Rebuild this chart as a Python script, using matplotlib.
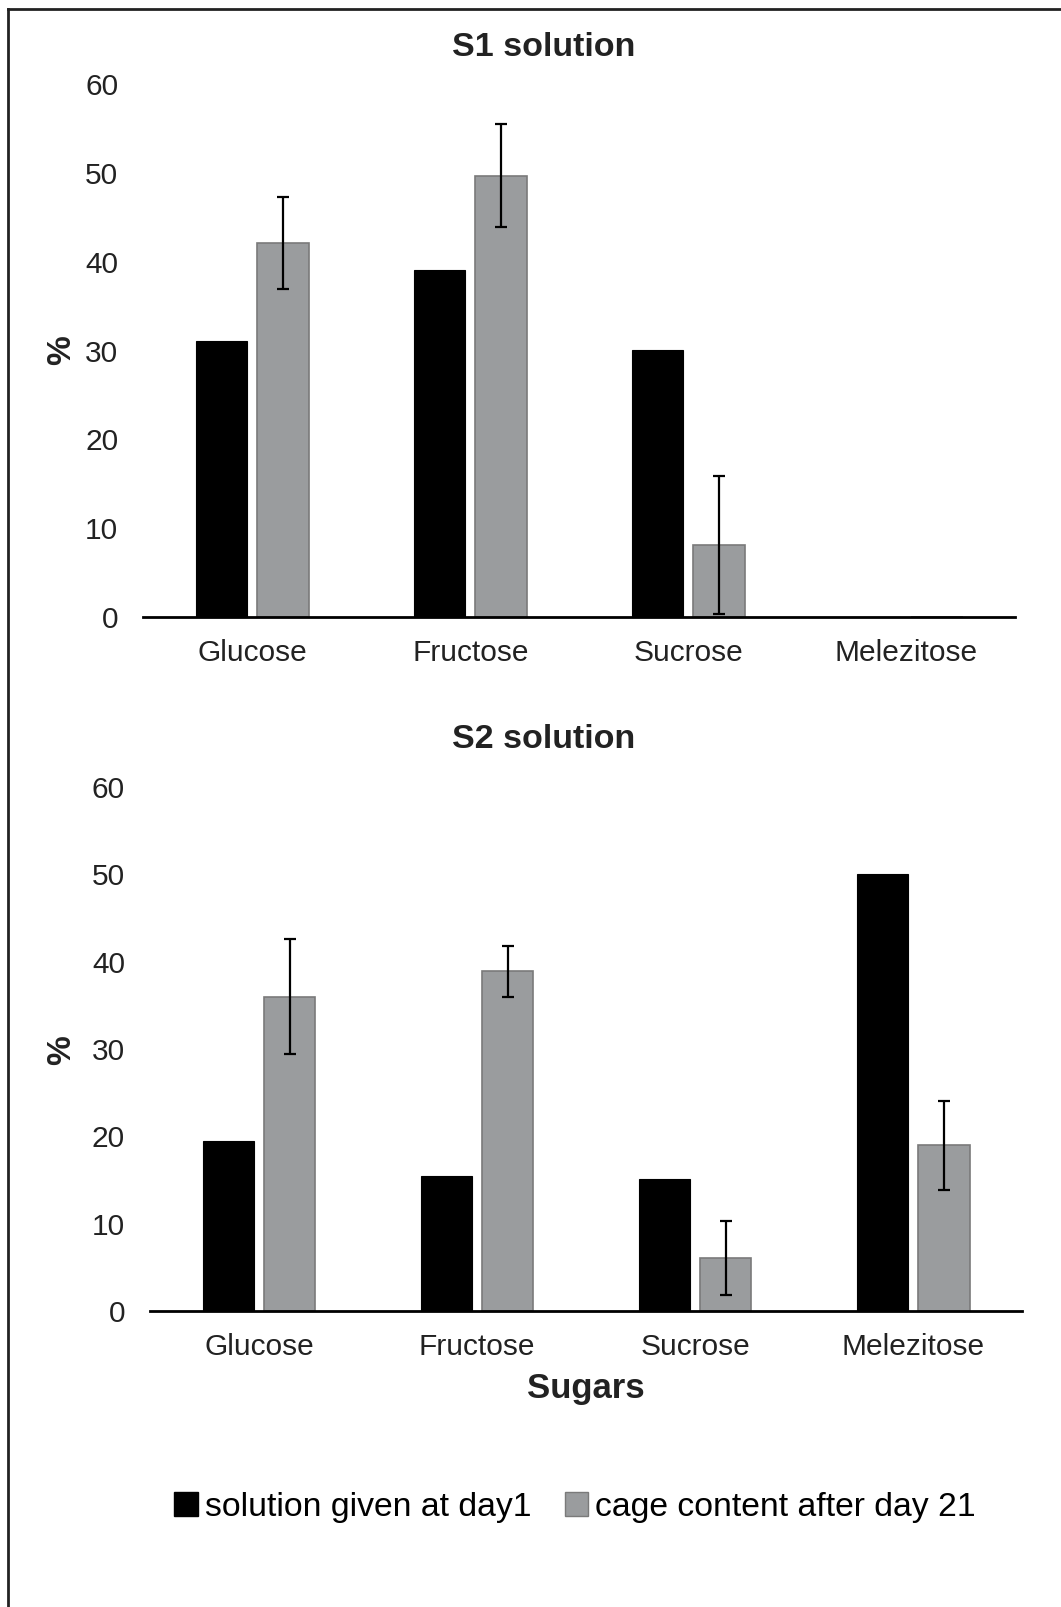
import numpy as np
import matplotlib.pyplot as plt
from matplotlib.patches import Patch
from matplotlib.lines import Line2D

plt.rcParams['font.family'] = ['Liberation Sans', 'DejaVu Sans']

# data
sugars = ['Glucose', 'Fructose', 'Sucrose', 'Melezitose']
series = ['solution given at day1', 'cage content after day 21']

s1_day1 = [31.1, 39.1, 30.1, 0]
s1_day21 = [42.1, 49.7, 8.1, 0]
s1_err = [5.2, 5.75, 7.8, 0]

s2_day1 = [19.5, 15.5, 15.1, 50.0]
s2_day21 = [36.0, 38.9, 6.1, 19.0]
s2_err = [6.6, 2.9, 4.25, 5.1]

yticks = [0, 10, 20, 30, 40, 50, 60]

black = '#000000'
grey = '#9a9c9e'
grey_edge = '#7a7a7a'

fig = plt.figure(figsize=(10.61, 16.07), dpi=100)

# frame lines (only top and left are visible in the original)
W, H = 1061, 1607
fig.add_artist(Line2D([7.5 / W, 1], [1 - 9 / H, 1 - 9 / H], transform=fig.transFigure,
                      color='#222222', linewidth=2))
fig.add_artist(Line2D([7.5 / W, 7.5 / W], [0, 1 - 9 / H], transform=fig.transFigure,
                      color='#222222', linewidth=2))

ax1 = fig.add_axes([0.135, 0.616, 0.822, 0.3317])
ax2 = fig.add_axes([0.1414, 0.1842, 0.822, 0.3261])

x = np.arange(len(sugars))
w = 0.235
off = 0.141


def draw(ax, v1, v2, err):
    ax.bar(x - off, v1, w, color=black, edgecolor=black, linewidth=0.8)
    ax.bar(x + off, v2, w, color=grey, edgecolor=grey_edge, linewidth=1.2)
    e = np.array(err)
    m = e > 0
    ax.errorbar(x[m] + off, np.array(v2)[m], yerr=e[m], fmt='none',
                ecolor='black', elinewidth=1.6, capsize=4, capthick=1.6)
    ax.set_xlim(-0.5, len(sugars) - 0.5)
    ax.set_ylim(0, 60)
    ax.set_yticks(yticks)
    ax.set_xticks(x)
    ax.set_xticklabels(sugars)
    for s in ['top', 'right', 'left']:
        ax.spines[s].set_visible(False)
    ax.spines['bottom'].set_linewidth(2)
    ax.tick_params(axis='y', length=0, pad=18, labelsize=21.5, labelcolor='#222222')
    ax.tick_params(axis='x', length=0, pad=16, labelsize=21.5, labelcolor='#222222')


draw(ax1, s1_day1, s1_day21, s1_err)
draw(ax2, s2_day1, s2_day21, s2_err)

fig.text(0.512, 1 - 48 / H, 'S1 solution', ha='center', va='center',
         fontsize=24.5, fontweight='bold', color='#222222')
fig.text(0.512, 1 - 740 / H, 'S2 solution', ha='center', va='center',
         fontsize=24.5, fontweight='bold', color='#222222')
fig.text(0.058, 0.782, '%', rotation=90, ha='center', va='center',
         fontsize=24, fontweight='bold', color='#222222')
fig.text(0.058, 0.3466, '%', rotation=90, ha='center', va='center',
         fontsize=24, fontweight='bold', color='#222222')
fig.text(0.552, 0.1357, 'Sugars', ha='center', va='center',
         fontsize=25, fontweight='bold', color='#222222')

handles = [Patch(facecolor=black, edgecolor=black),
           Patch(facecolor=grey, edgecolor=grey_edge)]
fig.legend(handles, series, loc='center', bbox_to_anchor=(0.542, 0.062),
           ncol=2, frameon=False, fontsize=24.3, handlelength=0.7,
           handleheight=0.7, handletextpad=0.2, columnspacing=1.0)

fig.savefig('out.png', dpi=100)
